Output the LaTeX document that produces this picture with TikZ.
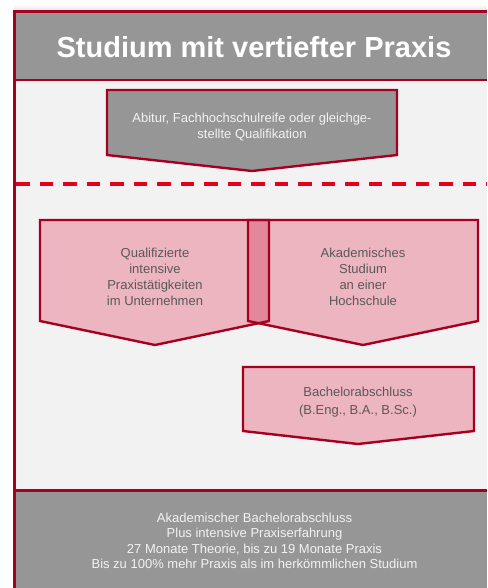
\documentclass[tikz,border=0pt]{standalone}
\usepackage{fontspec}
\setmainfont{Liberation Sans}
\definecolor{framered}{HTML}{A50021}
\definecolor{dashred}{HTML}{E2001A}
\definecolor{band}{HTML}{969696}
\definecolor{paper}{HTML}{F2F2F2}
\definecolor{pinkfill}{HTML}{EDB5C0}
\definecolor{overlapfill}{HTML}{E3889A}
\definecolor{txt}{HTML}{595959}
\begin{document}
\begin{tikzpicture}[x=1pt,y=-1pt,
  arrowbox/.style={draw=framered,line width=2.4pt,line join=miter},
  pinkbox/.style={arrowbox,fill=pinkfill},
  graybox/.style={arrowbox,fill=band},
  boxtext/.style={align=center,text=txt,font=\fontsize{13}{16}\selectfont,inner sep=0pt},
  whitetext/.style={align=center,text=paper,inner sep=0pt},
  frameline/.style={draw=framered,line width=3pt}]
\useasboundingbox (0,0) rectangle (487,588);
% shadow above frame
\shade[top color=white,bottom color=black!12] (14,4) rectangle (487,12);
% backgrounds
\fill[band] (14,12) rectangle (487,80);
\fill[paper] (14,80) rectangle (487,490);
\fill[band] (14,490) rectangle (487,588);
% frame lines
\draw[frameline] (487,12) -- (14.5,12) -- (14.5,588);
\draw[draw=framered,line width=2.5pt] (14.5,80) -- (487,80);
\draw[frameline] (14.5,490.5) -- (487,490.5);
% title
\node[whitetext,font=\fontsize{29}{34}\bfseries\selectfont,anchor=base,text=white] (title) at (254,58) {Studium mit vertiefter Praxis};
% top arrow
\draw[graybox] (107,90) -- (397,90) -- (397,155) -- (252,171) -- (107,155) -- cycle;
\node[whitetext,font=\fontsize{13}{16}\selectfont] (abitur) at (252,127) {Abitur, Fachhochschulreife oder gleichge-\\stellte Qualifikation};
% dashed separator
\draw[draw=dashred,line width=4pt,dash pattern=on 13.5pt off 10pt] (16,183.5) -- (487,183.5);
% two pentagons
\fill[pinkfill] (40,220) -- (269,220) -- (269,321) -- (155,345) -- (40,321) -- cycle;
\fill[pinkfill] (248,220) -- (478,220) -- (478,321) -- (363,345) -- (248,321) -- cycle;
\begin{scope}
\clip (40,220) -- (269,220) -- (269,321) -- (155,345) -- (40,321) -- cycle;
\fill[overlapfill] (248,220) -- (478,220) -- (478,321) -- (363,345) -- (248,321) -- cycle;
\end{scope}
\draw[arrowbox] (40,220) -- (269,220) -- (269,321) -- (155,345) -- (40,321) -- cycle;
\draw[arrowbox] (248,220) -- (478,220) -- (478,321) -- (363,345) -- (248,321) -- cycle;
\node[boxtext] (praxis) at (155,277) {Qualifizierte\\intensive\\Praxistätigkeiten\\im Unternehmen};
\node[boxtext] (studium) at (363,277) {Akademisches\\Studium\\an einer\\Hochschule};
% bachelor
\draw[pinkbox] (243,367) -- (474,367) -- (474,431) -- (358,444) -- (243,431) -- cycle;
\node[boxtext,font=\fontsize{13}{17.5}\selectfont] (bachelor) at (358,402) {Bachelorabschluss\\(B.Eng., B.A., B.Sc.)};
% bottom text
\node[whitetext,font=\fontsize{13}{15.4}\selectfont] (summary) at (254.5,541) {Akademischer Bachelorabschluss\\Plus intensive Praxiserfahrung\\27 Monate Theorie, bis zu 19 Monate Praxis\\Bis zu 100\% mehr Praxis als im herkömmlichen Studium};
\end{tikzpicture}
\end{document}
